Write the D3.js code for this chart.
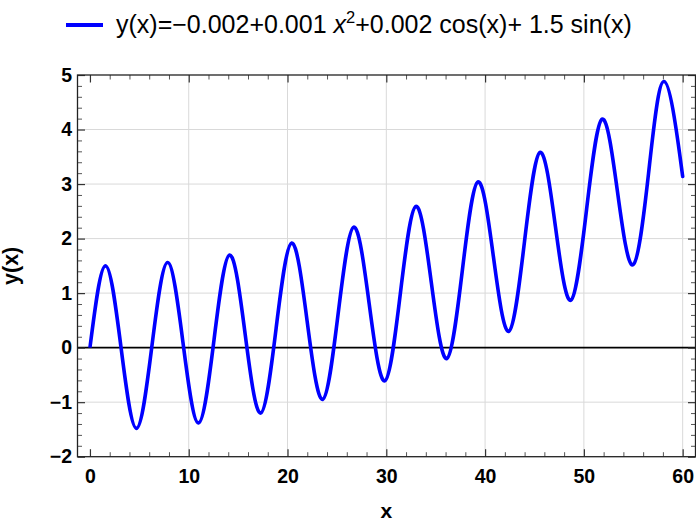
<!DOCTYPE html>
<html>
<head>
<meta charset="utf-8">
<script src="https://cdn.jsdelivr.net/npm/d3@7"></script>
<style>
  html, body { margin: 0; padding: 0; background: #fff; }
  svg { display: block; }
  text { font-family: "Liberation Sans", Arial, sans-serif; }
</style>
</head>
<body>
<svg id="chart" width="696" height="525"></svg>
<script>
// Data: x positions (quarter periods) and y values
const xValues = [0, 1.57, 3.14, 4.71, 6.28, 7.85, 9.42, 11.0, 12.57, 14.14, 15.71, 17.28,
  18.85, 20.42, 21.99, 23.56, 25.13, 26.7, 28.27, 29.85, 31.42, 32.99, 34.56, 36.13,
  37.7, 39.27, 40.84, 42.41, 43.98, 45.55, 47.12, 48.69, 50.27, 51.84, 53.41, 54.98,
  56.55, 58.12, 59.69, 60];
const yValues = [0, 1.50, 0.01, -1.48, 0.04, 1.56, 0.09, -1.38, 0.16, 1.70, 0.25, -1.20,
  0.36, 1.92, 0.48, -0.95, 0.63, 2.21, 0.80, -0.61, 0.99, 2.59, 1.19, -0.20,
  1.42, 3.04, 1.67, 0.30, 1.93, 3.58, 2.22, 0.87, 2.53, 4.19, 2.85, 1.52,
  3.20, 4.88, 3.56, 3.14];
const xTicks = [0, 10, 20, 30, 40, 50, 60];
const yTicks = [-2, -1, 0, 1, 2, 3, 4, 5];
const legendLabel = "y(x)=\u22120.002+0.001 ";
const xLabel = "x";
const yLabel = "y(x)";

const svg = d3.select("#chart");
const pLeft = 77.5, pRight = 695.5, pTop = 75, pBottom = 456.7;

const x = d3.scaleLinear().domain([-1.26, 61.3]).range([pLeft, pRight]);
const y = d3.scaleLinear().domain([-2, 5]).range([pBottom, pTop]);

const xMinor = d3.range(0, 61, 2).filter(v => v % 10 !== 0);
const yMinor = d3.range(-2, 5.001, 0.2).map(v => +v.toFixed(1)).filter(v => Math.abs(v - Math.round(v)) > 1e-6);

// grid
const grid = svg.append("g");
grid.selectAll(".gx").data(xTicks.filter(v => v !== 0)).join("line")
  .attr("x1", d => x(d)).attr("x2", d => x(d)).attr("y1", pTop).attr("y2", pBottom)
  .attr("stroke", "#d9d9d9").attr("stroke-width", 1);
grid.selectAll(".gy").data(yTicks.filter(v => v !== 0 && v !== -2 && v !== 5)).join("line")
  .attr("x1", pLeft).attr("x2", pRight).attr("y1", d => y(d)).attr("y2", d => y(d))
  .attr("stroke", "#d9d9d9").attr("stroke-width", 1);

// zero line
svg.append("line").attr("x1", pLeft).attr("x2", pRight).attr("y1", y(0)).attr("y2", y(0))
  .attr("stroke", "#000").attr("stroke-width", 1.8);

// axes with inward ticks
function tickAxis(axisFn, scale, major, minor, transform) {
  const g1 = svg.append("g").attr("transform", transform)
    .call(axisFn(scale).tickValues(major).tickSize(-7.5).tickFormat(""));
  const g2 = svg.append("g").attr("transform", transform)
    .call(axisFn(scale).tickValues(minor).tickSize(-4.5).tickFormat(""));
  [g1, g2].forEach(g => { g.select(".domain").remove(); });
  g1.selectAll(".tick line").attr("stroke", "#333").attr("stroke-width", 1.2);
  g2.selectAll(".tick line").attr("stroke", "#555").attr("stroke-width", 1);
  return g1;
}
tickAxis(d3.axisBottom, x, xTicks, xMinor, `translate(0,${pBottom})`);
tickAxis(d3.axisTop, x, xTicks, xMinor, `translate(0,${pTop})`);
tickAxis(d3.axisLeft, y, yTicks, yMinor, `translate(${pLeft},0)`);
tickAxis(d3.axisRight, y, yTicks, yMinor, `translate(${pRight},0)`);

// tick labels
const xl = svg.append("g").attr("transform", `translate(0,${pBottom})`)
  .call(d3.axisBottom(x).tickValues(xTicks).tickSize(0).tickPadding(12).tickFormat(d3.format("d")));
xl.select(".domain").remove();
xl.selectAll("text").attr("font-size", 19.5).attr("font-weight", "bold").attr("fill", "#000")
  .attr("font-family", "Liberation Sans, Arial, sans-serif");
const yl = svg.append("g").attr("transform", `translate(${pLeft},0)`)
  .call(d3.axisLeft(y).tickValues(yTicks).tickSize(0).tickPadding(5.5)
    .tickFormat(d => d < 0 ? "\u2212" + Math.abs(d) : String(d)));
yl.select(".domain").remove();
yl.selectAll("text").attr("font-size", 19.5).attr("font-weight", "bold").attr("fill", "#000")
  .attr("font-family", "Liberation Sans, Arial, sans-serif");

// frame
svg.append("rect").attr("x", pLeft).attr("y", pTop).attr("width", pRight - pLeft).attr("height", pBottom - pTop)
  .attr("fill", "none").attr("stroke", "#222").attr("stroke-width", 1.3);

// curve
const pts = xValues.map((v, i) => [v, yValues[i]]);
svg.append("path").datum(pts)
  .attr("d", d3.line().x(d => x(d[0])).y(d => y(d[1])).curve(d3.curveNatural))
  .attr("fill", "none").attr("stroke", "#0000ff").attr("stroke-width", 3.6)
  .attr("stroke-linejoin", "round");

// axis labels
svg.append("text").attr("x", (x(0) + x(60)) / 2).attr("y", 518).attr("text-anchor", "middle")
  .attr("font-size", 21).attr("font-weight", "bold").text(xLabel);
svg.append("text").attr("transform", `translate(18,${(pTop + pBottom) / 2}) rotate(-90)`)
  .attr("text-anchor", "middle").attr("font-size", 21.5).attr("font-weight", "bold").text(yLabel);

// legend
svg.append("line").attr("x1", 66).attr("x2", 103).attr("y1", 25).attr("y2", 25)
  .attr("stroke", "#0000ff").attr("stroke-width", 4);
const lt = svg.append("text").attr("x", 116).attr("y", 33).attr("font-size", 25).attr("fill", "#000");
lt.append("tspan").text(legendLabel);
lt.append("tspan").attr("font-style", "italic").text("x");
lt.append("tspan").attr("dy", -10).attr("font-size", 16.5).text("2");
lt.append("tspan").attr("dy", 10).text("+0.002 cos(x)+ 1.5 sin(x)");
</script>
</body>
</html>
